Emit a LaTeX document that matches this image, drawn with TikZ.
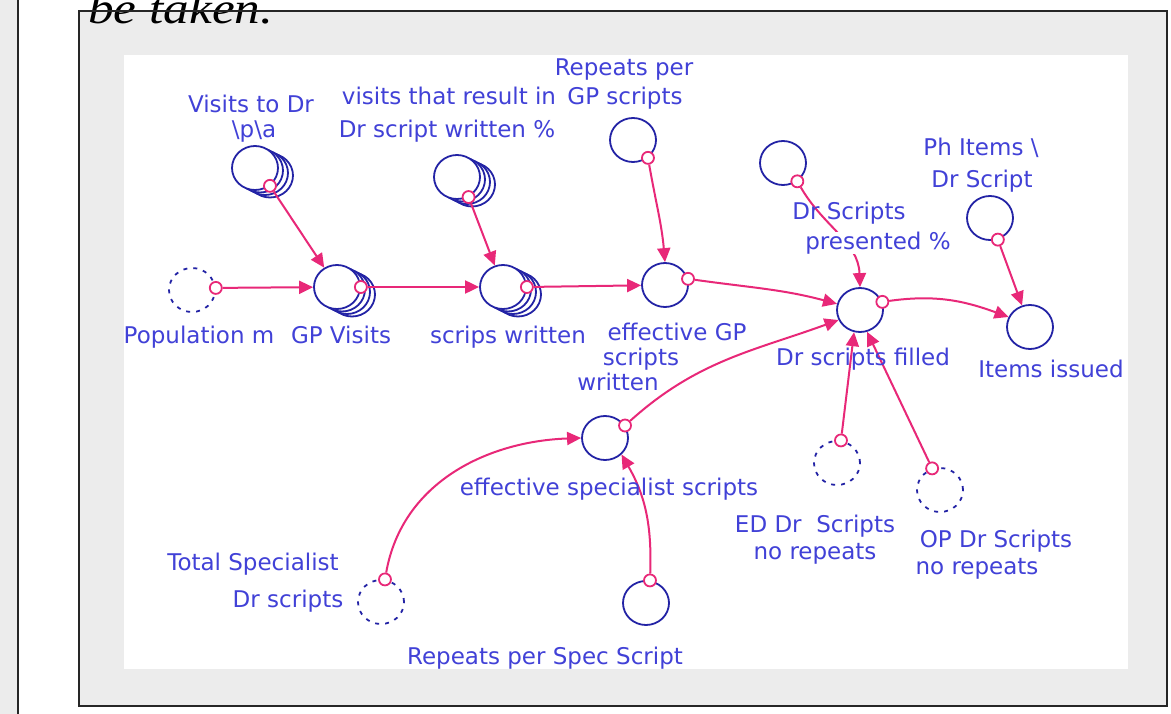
\documentclass[tikz,border=0pt]{standalone}
\usepackage{fontspec}
\usepackage{graphicx}
\newfontfamily\lblfont{DejaVu Sans}
\newfontfamily\capfont{Liberation Serif}
\usetikzlibrary{arrows.meta,shapes.geometric,calc}
\definecolor{bggray}{RGB}{236,236,236}
\definecolor{txtblue}{RGB}{65,65,215}
\definecolor{circblue}{RGB}{35,35,165}
\definecolor{linkpink}{RGB}{232,40,120}
\newcommand\stackback[2]{\foreach \k in {3,2,1}{\node[aux] at ($(#1,#2)+(5*\k,2.5*\k)$) {};}}
\begin{document}
\begin{tikzpicture}[x=1pt,y=-1pt,
  aux/.style={ellipse,draw=circblue,line width=1.8pt,fill=white,minimum width=46pt,minimum height=44pt,inner sep=0pt},
  ghost/.style={aux,fill=none,dash pattern=on 4pt off 6pt},
  src/.style={circle,draw=linkpink,line width=1.8pt,fill=white,minimum size=12pt,inner sep=0pt},
  lbl/.style={text=txtblue,font={\lblfont\fontsize{23}{27}\selectfont},inner sep=0pt,anchor=base},
  link/.style={draw=linkpink,line width=2pt,-{Triangle[length=14pt,width=13pt]}},
  frame/.style={draw=black!85,line width=2pt}
]
\useasboundingbox (0,0) rectangle (1171,714);
\clip (0,0) rectangle (1171,714);
% background
\fill[white] (0,0) rectangle (1171,714);
\fill[bggray] (0,0) rectangle (18,714);
\draw[frame] (18,-5) -- (18,720);
\fill[bggray] (79,11.5) rectangle (1167,706);
\node[anchor=base west,inner sep=0pt,font={\capfont\itshape\fontsize{44}{50}\selectfont}] (cap) at (88,24) {\scalebox{1.165}[1]{be taken.}};
\draw[frame] (79,11.5) rectangle (1167,706);
\fill[white] (124,55) rectangle (1128,669);

% variables
\stackback{255}{168}\node[aux] (vis) at (255,168) {};
\stackback{457}{177}\node[aux] (vres) at (457,177) {};
\node[aux] (rpgp) at (633,140) {};
\node[aux] (dsp) at (783,163) {};
\node[aux] (phi) at (990,218) {};
\node[ghost] (pop) at (192,290) {};
\stackback{337}{287}\node[aux] (gpv) at (337,287) {};
\stackback{503}{287}\node[aux] (scw) at (503,287) {};
\node[aux] (egp) at (665,285) {};
\node[aux] (dsf) at (860,310) {};
\node[aux] (itm) at (1030,327) {};
\node[aux] (esp) at (605,438) {};
\node[ghost] (ed) at (837,463) {};
\node[ghost] (op) at (940,490) {};
\node[ghost] (tot) at (381,602) {};
\node[aux] (rps) at (646,603) {};

% source markers
\node[src] (viss) at (vis.-50) {};
\node[src] (vress) at (vres.-60) {};
\node[src] (rpgps) at (rpgp.-50) {};
\node[src] (dsps) at (dsp.-52) {};
\node[src] (phis) at (phi.-70) {};
\node[src] (pops) at (pop.5) {};
\node[src] (gpvs) at (gpv.0) {};
\node[src] (scws) at (scw.0) {};
\node[src] (egps) at (egp.15) {};
\node[src] (dsfs) at (dsf.20) {};
\node[src] (esps) at (esp.32) {};
\node[src] (eds) at (ed.80) {};
\node[src] (ops) at (op.110) {};
\node[src] (tots) at (tot.80) {};
\node[src] (rpss) at (rps.80) {};

% links
\draw[link] (viss) -- (gpv);
\draw[link] (vress) -- (scw);
\draw[link] (pops) -- (gpv);
\draw[link] (gpvs) -- (scw);
\draw[link] (scws) -- (egp);
\draw[link] (rpgps) to[out=-80,in=95] (egp.north);
\draw[link] (egps) to[out=-8,in=165] (dsf.165);
\draw[link] (dsps) to[out=-60,in=92] (dsf.north);
\draw[link] (phis) -- (itm);
\draw[link] (dsfs) to[out=8,in=160] (itm.155);
\draw[link] (esps) to[out=42,in=200] (dsf.205);
\draw[link] (tots) to[out=80,in=182] (esp.west);
\draw[link] (rpss) to[out=88,in=-60] (esp.-45);
\draw[link] (eds) -- (dsf.-105);
\draw[link] (ops) -- (dsf.-72);

% labels
\node[lbl] (l1a) at (251,112.5) {Visits to Dr};
\node[lbl] (l1b) at (254,137.5) {\textbackslash p\textbackslash a};
\node[lbl] (l2a) at (449,104.5) {visits that result in};
\node[lbl] (l2b) at (447,137.5) {Dr script written \%};
\node[lbl] (l3a) at (624,75.5) {Repeats per};
\node[lbl] (l3b) at (625,104.5) {GP scripts};
\node[lbl] (l4a) at (849,219.5) {Dr Scripts};
\node[lbl,fill=white] (l4b) at (878,249.5) {presented \%};
\node[lbl] (l5a) at (981,155.5) {Ph Items \textbackslash};
\node[lbl] (l5b) at (982,187.5) {Dr Script};
\node[lbl] (l6) at (199,343.5) {Population m};
\node[lbl] (l7) at (341,343.5) {GP Visits};
\node[lbl] (l8) at (508,343.5) {scrips written};
\node[lbl] (l9a) at (677,340.5) {effective GP};
\node[lbl] (l9b) at (641,365.5) {scripts};
\node[lbl] (l9c) at (618,390.5) {written};
\node[lbl] (l10) at (863,365.5) {Dr scripts filled};
\node[lbl] (l11) at (1051,377.5) {Items issued};
\node[lbl] (l12) at (609,495.5) {effective specialist scripts};
\node[lbl] (l13a) at (815,532.5) {ED Dr\ \ Scripts};
\node[lbl] (l13b) at (815,559.5) {no repeats};
\node[lbl] (l14a) at (996,547.5) {OP Dr Scripts};
\node[lbl] (l14b) at (977,574.5) {no repeats};
\node[lbl] (l15a) at (253,570.5) {Total Specialist};
\node[lbl] (l15b) at (288,607.5) {Dr scripts};
\node[lbl] (l16) at (545,664.5) {Repeats per Spec Script};
\end{tikzpicture}
\end{document}
